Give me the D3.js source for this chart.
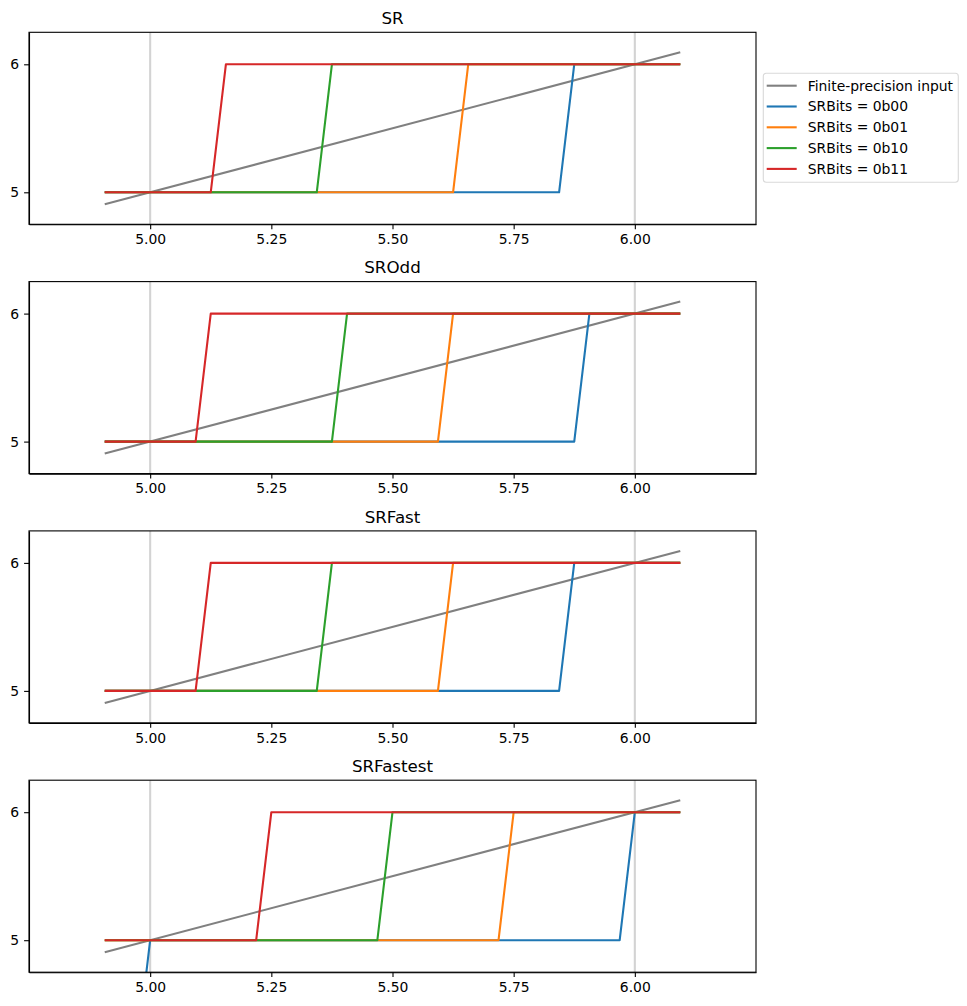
<!DOCTYPE html>
<html>
<head>
<meta charset="utf-8">
<script src="https://cdn.jsdelivr.net/npm/d3@7"></script>
<style>
  body { margin: 0; background: #fff; }
  text { font-family: "DejaVu Sans", sans-serif; fill: #000; }
  .tick text { font-size: 13.9px; }
  .domain, .tick line { stroke: #000; stroke-width: 1.1px; }
</style>
</head>
<body>
<div id="chart"></div>
<script>
// panel titles and legend labels
var panelTitles = ["SR", "SROdd", "SRFast", "SRFastest"];
var seriesNames = ["SRBits = 0b00", "SRBits = 0b01", "SRBits = 0b10", "SRBits = 0b11"];
var xTicks = [5.00, 5.25, 5.50, 5.75, 6.00];
var yTicks = [5, 6];
var gridX = [5, 6];

// finite-precision input (x = y)
var inputLine = [[4.90625, 4.90625], [6.09375, 6.09375]];

// rounded outputs, corner points [input, output] per SRBits value
var srValues = [
  [[4.90625, 5], [5.84375, 5], [5.875, 6], [6.09375, 6]],
  [[4.90625, 5], [5.625, 5], [5.65625, 6], [6.09375, 6]],
  [[4.90625, 5], [5.34375, 5], [5.375, 6], [6.09375, 6]],
  [[4.90625, 5], [5.125, 5], [5.15625, 6], [6.09375, 6]]
];
var srOddValues = [
  [[4.90625, 5], [5.875, 5], [5.90625, 6], [6.09375, 6]],
  [[4.90625, 5], [5.59375, 5], [5.625, 6], [6.09375, 6]],
  [[4.90625, 5], [5.375, 5], [5.40625, 6], [6.09375, 6]],
  [[4.90625, 5], [5.09375, 5], [5.125, 6], [6.09375, 6]]
];
var srFastValues = [
  [[4.90625, 5], [5.84375, 5], [5.875, 6], [6.09375, 6]],
  [[4.90625, 5], [5.59375, 5], [5.625, 6], [6.09375, 6]],
  [[4.90625, 5], [5.34375, 5], [5.375, 6], [6.09375, 6]],
  [[4.90625, 5], [5.09375, 5], [5.125, 6], [6.09375, 6]]
];
var srFastestValues = [
  [[4.90625, 4], [4.96875, 4], [5.0, 5], [5.96875, 5], [6.0, 6], [6.09375, 6]],
  [[4.90625, 5], [5.71875, 5], [5.75, 6], [6.09375, 6]],
  [[4.90625, 5], [5.46875, 5], [5.5, 6], [6.09375, 6]],
  [[4.90625, 5], [5.21875, 5], [5.25, 6], [6.09375, 6]]
];
var panelData = [srValues, srOddValues, srFastValues, srFastestValues];

var colors = ["#1f77b4", "#ff7f0e", "#2ca02c", "#d62728"];

var svgWidth = 967;
var svgHeight = 1006;
var left = 29;
var width = 727;
var height = 192;
var firstTop = 32.3;
var step = 249.3;

var svg = d3.select("#chart")
  .append("svg")
  .attr("width", svgWidth)
  .attr("height", svgHeight);

var x = d3.scaleLinear().domain([4.75, 6.25]).range([0, width]);
var y = d3.scaleLinear().domain([4.75, 6.25]).range([height, 0]);

var line = d3.line()
  .x(d => x(d[0]))
  .y(d => y(d[1]));

panelData.forEach(function(series, i) {
  var g = svg.append("g")
    .attr("transform", `translate(${left}, ${firstTop + i * step})`);

  g.append("clipPath")
    .attr("id", "clip" + i)
    .append("rect")
    .attr("width", width)
    .attr("height", height);

  var plot = g.append("g").attr("clip-path", `url(#clip${i})`);

  // light grey verticals at the integers
  plot.selectAll(".vline")
    .data(gridX)
    .enter()
    .append("line")
    .attr("x1", d => x(d))
    .attr("x2", d => x(d))
    .attr("y1", 0)
    .attr("y2", height)
    .attr("stroke", "#d3d3d3")
    .attr("stroke-width", 2.1);

  plot.append("path")
    .datum(inputLine)
    .attr("d", line)
    .attr("fill", "none")
    .attr("stroke", "#808080")
    .attr("stroke-width", 2.1);

  plot.selectAll(".sr")
    .data(series)
    .enter()
    .append("path")
    .attr("d", line)
    .attr("fill", "none")
    .attr("stroke", (d, j) => colors[j])
    .attr("stroke-width", 2.1)
    .attr("stroke-linejoin", "round");

  // axes
  g.append("g")
    .attr("transform", `translate(0, ${height})`)
    .call(d3.axisBottom(x).tickValues(xTicks).tickFormat(d3.format(".2f"))
      .tickSize(4.9).tickSizeOuter(0).tickPadding(4.9));

  g.append("g")
    .call(d3.axisLeft(y).tickValues(yTicks).tickFormat(d3.format("d"))
      .tickSize(4.9).tickSizeOuter(0).tickPadding(4.9));

  g.append("rect")
    .attr("width", width)
    .attr("height", height)
    .attr("fill", "none")
    .attr("stroke", "#000")
    .attr("stroke-width", 1.1);

  g.append("text")
    .attr("x", width / 2)
    .attr("y", -8.3)
    .attr("text-anchor", "middle")
    .style("font-size", "16.7px")
    .text(panelTitles[i]);
});

// legend beside the first panel
var legendItems = [{ name: "Finite-precision input", color: "#808080" }]
  .concat(seriesNames.map((n, j) => ({ name: n, color: colors[j] })));

var legend = svg.append("g")
  .attr("transform", "translate(763.3, 73.3)");

legend.append("rect")
  .attr("width", 195)
  .attr("height", 109)
  .attr("rx", 3)
  .attr("fill", "#fff")
  .attr("fill-opacity", 0.8)
  .attr("stroke", "#d9d9d9")
  .attr("stroke-width", 1.1);

var rows = legend.selectAll(".row")
  .data(legendItems)
  .enter()
  .append("g")
  .attr("transform", (d, j) => `translate(0, ${12.4 + j * 20.8})`);

rows.append("line")
  .attr("x1", 3.4)
  .attr("x2", 33.4)
  .attr("stroke", d => d.color)
  .attr("stroke-width", 2.1);

rows.append("text")
  .attr("x", 44.4)
  .attr("dy", "0.35em")
  .style("font-size", "13.9px")
  .text(d => d.name);
</script>
</body>
</html>
